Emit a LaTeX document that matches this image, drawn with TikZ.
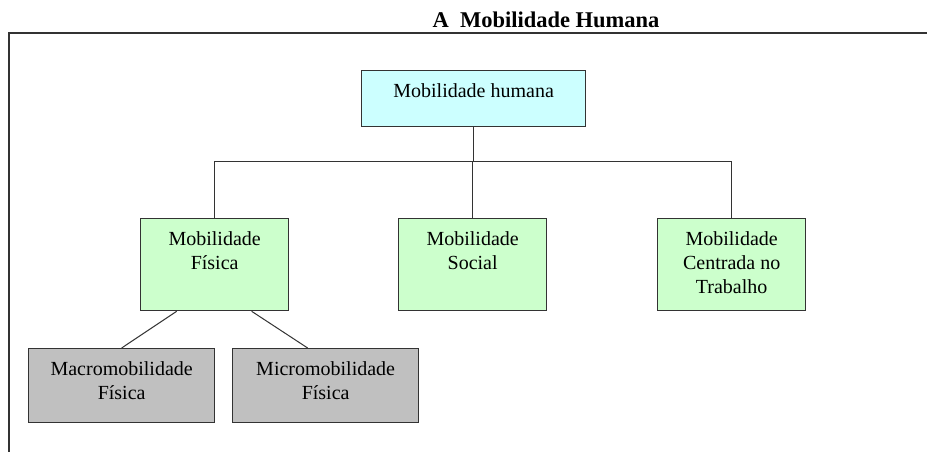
\documentclass[tikz,border=0pt]{standalone}
\usepackage{fontspec}
\setmainfont{Liberation Serif}
\definecolor{cyanbox}{HTML}{CCFFFF}
\definecolor{greenbox}{HTML}{CCFFCC}
\definecolor{graybox}{HTML}{C0C0C0}
\definecolor{linegray}{HTML}{333333}
\begin{document}
\begin{tikzpicture}[x=1pt,y=-1pt,
  boxbase/.style={draw=linegray, line width=1.3pt, rectangle, inner sep=0pt, anchor=north west},
  topbox/.style={boxbase, fill=cyanbox, minimum width=224pt, minimum height=56pt},
  greenb/.style={boxbase, fill=greenbox, minimum width=148pt, minimum height=92pt},
  grayb/.style={boxbase, fill=graybox, minimum width=186pt, minimum height=74pt},
  lbl/.style={inner sep=0pt, align=center, font=\fontsize{20}{24}\selectfont, anchor=north},
  conn/.style={draw=linegray, line width=1pt},
  frame/.style={draw=linegray, line width=1.3pt}]
\useasboundingbox (0,0) rectangle (927,452);
% title and frame
\node[font=\fontsize{22.5}{26}\selectfont\bfseries, inner sep=0pt, anchor=base] (title) at (546,28) {A\ \ Mobilidade Humana};
\coordinate (fc) at (9,33);
\coordinate (fr) at (927,33);
\coordinate (fb) at (9,452);
\draw[frame] (fr) -- (fc) -- (fb);
% boxes
\node[topbox] (top) at (361,70) {};
\node[greenb] (fis) at (140,218) {};
\node[greenb] (soc) at (398,218) {};
\node[greenb] (trab) at (657,218) {};
\node[grayb] (macro) at (28,348) {};
\node[grayb] (micro) at (232,348) {};
% labels
\node[inner sep=0pt, font=\fontsize{20}{24}\selectfont, anchor=base] (ttop) at ([yshift=-27]top.north) {Mobilidade humana};
\node[lbl] (tfis) at ([yshift=-13.3]fis.north) {Mobilidade\\Física};
\node[lbl] (tsoc) at ([yshift=-13.3]soc.north) {Mobilidade\\Social};
\node[lbl] (ttrab) at ([yshift=-13.3]trab.north) {Mobilidade\\Centrada no\\Trabalho};
\node[lbl] (tmacro) at ([yshift=-13.3]macro.north) {Macromobilidade\\Física};
\node[lbl] (tmicro) at ([yshift=-13.3]micro.north) {Micromobilidade\\Física};
% connectors
\coordinate (junc) at ([yshift=-34]top.south);
\draw[conn] (top.south) -- (junc);
\draw[conn] (fis.north) |- (junc) -| (trab.north);
\draw[conn] (soc.north) -- (soc.north |- junc);
\draw[conn] ([xshift=-38]fis.south) -- (macro.north);
\draw[conn] ([xshift=37]fis.south) -- ([xshift=-18]micro.north);
\end{tikzpicture}
\end{document}
